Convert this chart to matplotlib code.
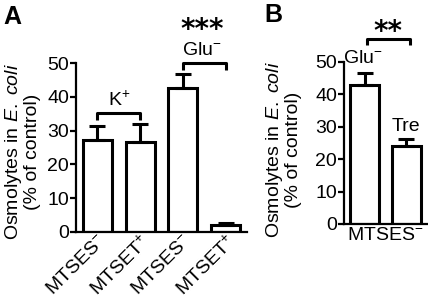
import matplotlib
matplotlib.use("Agg")
import matplotlib.pyplot as plt

plt.rcParams['font.family'] = ['Liberation Sans', 'DejaVu Sans']
plt.rcParams['mathtext.fontset'] = 'custom'
plt.rcParams['mathtext.rm'] = 'Liberation Sans'
plt.rcParams['mathtext.it'] = 'Liberation Sans:italic'
plt.rcParams['mathtext.bf'] = 'Liberation Sans:bold'

# Panel A data
a_labels = ["MTSES$^{-}$", "MTSET$^{+}$", "MTSES$^{-}$", "MTSET$^{+}$"]
a_values = [27.2, 26.6, 42.6, 2.0]
a_errors = [4.2, 5.3, 4.0, 0.6]
# Panel B data
b_groups = ["Glu$^{-}$", "Tre"]
b_values = [42.8, 24.2]
b_errors = [3.8, 2.0]
b_xlabel = "MTSES$^{-}$"
yticks = [0, 10, 20, 30, 40, 50]

FS = 14
LW = 2.2
fig = plt.figure(figsize=(4.28, 3.0), dpi=100)
axA = fig.add_axes([76/428, 1-232/300, 171/428, 169/300])
axB = fig.add_axes([344/428, 1-224/300, 83/428, 162/300])

def style(ax):
    for s in ['top', 'right']:
        ax.spines[s].set_visible(False)
    for s in ['left', 'bottom']:
        ax.spines[s].set_linewidth(1.6)
    ax.set_ylim(0, 50)
    ax.set_yticks(yticks)
    ax.tick_params(axis='y', length=4, width=1.6, labelsize=FS, pad=1)
    ax.tick_params(axis='x', length=0, labelsize=FS)

xa = list(range(len(a_values)))
axA.bar(xa, a_values, width=0.68, color='white', edgecolor='black', linewidth=LW, zorder=2)
axA.errorbar(xa, a_values, yerr=[[0]*4, a_errors], fmt='none', ecolor='black',
             elinewidth=LW, capsize=5.5, capthick=LW, zorder=3)
axA.set_xlim(-0.5, 3.5)
style(axA)
axA.set_xticks(xa)
axA.set_xticklabels(a_labels, rotation=45, ha='right', rotation_mode='anchor')
axA.tick_params(axis='x', pad=0)

def bracket(ax, x1, x2, y, h):
    ax.plot([x1, x1, x2, x2], [y-h, y, y, y-h], color='black', lw=LW,
            clip_on=False, solid_capstyle='butt', zorder=4)

star_font = dict(family='DejaVu Sans', fontweight='bold', fontsize=20)

bracket(axA, 0, 1, 35.2, 2.0)
axA.text(0.5, 39.0, "K$^{+}$", ha='center', va='center', fontsize=FS)
bracket(axA, 2, 3, 50.0, 2.0)
axA.text(2.45, 53.6, "Glu$^{-}$", ha='center', va='center', fontsize=FS, clip_on=False)
axA.text(2.45, 59.8, "***", ha='center', va='center', clip_on=False, **star_font)

xb = list(range(len(b_values)))
axB.bar(xb, b_values, width=0.7, color='white', edgecolor='black', linewidth=LW, zorder=2)
axB.errorbar(xb, b_values, yerr=[[0]*2, b_errors], fmt='none', ecolor='black',
             elinewidth=LW, capsize=5.5, capthick=LW, zorder=3)
axB.set_xlim(-0.5, 1.5)
style(axB)
axB.set_xticks([0.5])
axB.set_xticklabels([b_xlabel])
axB.tick_params(axis='x', pad=2)
axB.text(-0.05, 51.0, b_groups[0], ha='center', va='center', fontsize=FS, clip_on=False)
axB.text(1.0, 30.0, b_groups[1], ha='center', va='center', fontsize=FS, clip_on=False)
bracket(axB, 0.05, 1.1, 57.1, 1.8)
axB.text(0.57, 59.3, "**", ha='center', va='center', clip_on=False, **star_font)

ylab = "Osmolytes in $\\mathit{E.\\ coli}$\n(% of control)"
fig.text(22/428, 1-152/300, ylab, rotation=90, ha='center', va='center', fontsize=FS, linespacing=1.05)
fig.text(283/428, 1-150/300, ylab, rotation=90, ha='center', va='center', fontsize=FS, linespacing=1.05)

fig.text(3/428, 1-17/300, "A", fontsize=18, fontweight='bold', ha='left', va='center')
fig.text(264/428, 1-15/300, "B", fontsize=18, fontweight='bold', ha='left', va='center')

fig.savefig("out.png", dpi=100)
